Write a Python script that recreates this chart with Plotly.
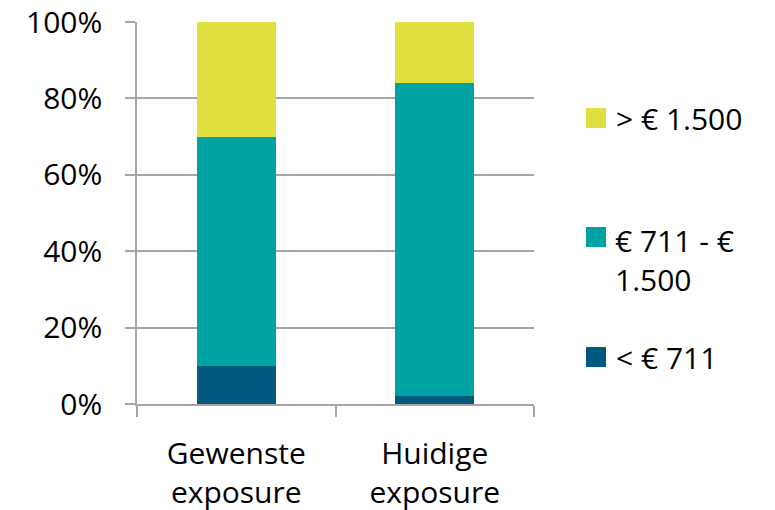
import plotly.graph_objects as go

# Categories and stacked shares (fractions of 1)
categories = ["Gewenste<br>exposure", "Huidige<br>exposure"]
series_names = ["< € 711", "€ 711 - €<br>1.500", "> € 1.500"]
low_share = [0.10, 0.02]
mid_share = [0.60, 0.82]
high_share = [0.30, 0.16]
series_values = [low_share, mid_share, high_share]
series_colors = ["#005A7E", "#00A3A4", "#DFDF40"]

FONT = "Open Sans"
FS = 30
GRID = "#A6A6A6"

W, H = 775, 510
L, R, T, B = 137, 241, 22, 106
PW, PH = W - L - R, H - T - B

fig = go.Figure()
for name, vals, col in zip(series_names, series_values, series_colors):
    fig.add_trace(go.Bar(x=categories, y=vals, name=name,
                         marker=dict(color=col, line=dict(width=0)),
                         width=0.4, showlegend=False))


def px_x(px):
    return (px - L) / PW


def px_y(py):
    return (H - B - py) / PH


# Legend drawn as swatches + labels, top item is the top stack segment
legend_rows = [(series_names[2], series_colors[2], 118),
               (series_names[1], series_colors[1], 237),
               (series_names[0], series_colors[0], 357)]
shapes = []
annotations = []
for name, col, cy in legend_rows:
    shapes.append(dict(type="rect", xref="paper", yref="paper",
                       x0=px_x(586), x1=px_x(606), y0=px_y(cy + 10), y1=px_y(cy - 10),
                       fillcolor=col, line=dict(width=0)))
    if "<br>" in name:
        annotations.append(dict(xref="paper", yref="paper", x=px_x(613), y=px_y(cy - 19),
                                xanchor="left", yanchor="top", align="left",
                                text=name, showarrow=False,
                                font=dict(family=FONT, size=FS, color="#000000")))
    else:
        annotations.append(dict(xref="paper", yref="paper", x=px_x(614), y=px_y(cy),
                                xanchor="left", yanchor="middle", align="left",
                                text=name, showarrow=False,
                                font=dict(family=FONT, size=FS, color="#000000")))

fig.update_layout(
    width=W, height=H,
    margin=dict(l=L, r=R, t=T, b=B, autoexpand=False),
    barmode="stack",
    bargap=0.6,
    plot_bgcolor="white", paper_bgcolor="white",
    font=dict(family=FONT, size=FS, color="#000000"),
    shapes=shapes, annotations=annotations,
    showlegend=False,
)
fig.update_yaxes(range=[0, 1], dtick=0.2, tickformat=".0%",
                 showgrid=True, gridcolor=GRID, gridwidth=1.5,
                 showline=True, linecolor=GRID, linewidth=1.5,
                 ticks="outside", ticklen=10, tickcolor=GRID, tickwidth=1.5,
                 ticklabelstandoff=17, zeroline=False, fixedrange=True,
                 automargin=False)
fig.update_xaxes(showline=True, linecolor=GRID, linewidth=1.5,
                 ticks="outside", ticklen=11, tickcolor=GRID, tickwidth=1.5,
                 tickson="boundaries", ticklabelstandoff=22,
                 showgrid=False, fixedrange=True, automargin=False)

fig.write_html("out.html")
